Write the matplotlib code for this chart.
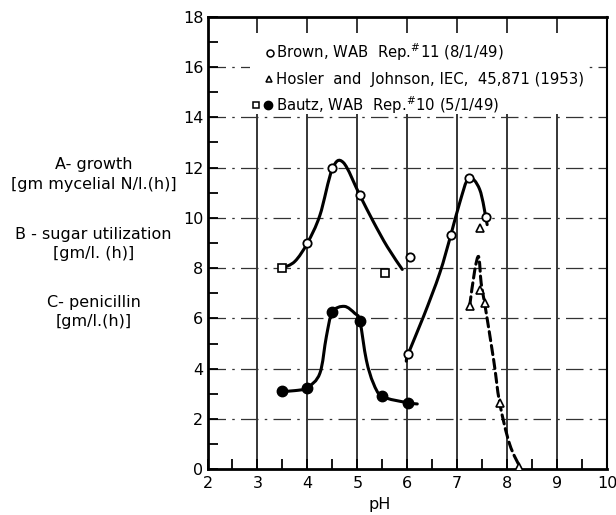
import numpy as np
import matplotlib.pyplot as plt
from matplotlib.path import Path
from matplotlib.patches import PathPatch, Rectangle

# marker data
brown_x = [4.0, 4.5, 5.05, 6.05, 6.02, 6.87, 7.23, 7.57]
brown_y = [9.0, 12.0, 10.9, 8.45, 4.6, 9.3, 11.57, 10.05]
hosler_x = [7.25, 7.45, 7.55, 7.85, 8.23, 7.45]
hosler_y = [6.5, 7.15, 6.6, 2.65, 0.1, 9.6]
bautz_sq_x = [3.5, 5.55]
bautz_sq_y = [8.0, 7.8]
bautz_dot_x = [3.5, 4.0, 4.5, 5.05, 5.5, 6.02]
bautz_dot_y = [3.1, 3.25, 6.25, 5.9, 2.9, 2.65]

# points the hand-drawn curves pass through
growth_x = [3.5, 3.75, 4.0, 4.25, 4.5, 4.72, 5.05, 5.32, 5.6, 5.9]
growth_y = [8.0, 8.27, 9.0, 10.1, 11.95, 12.2, 10.9, 9.85, 8.85, 7.95]
sugar_x = [5.98, 6.02, 6.33, 6.65, 6.87, 7.05, 7.23, 7.45, 7.6]
sugar_y = [4.3, 4.6, 6.1, 7.8, 9.3, 10.6, 11.57, 11.13, 9.73]
pen_x = [3.5, 3.75, 4.0, 4.25, 4.38, 4.5, 4.74, 4.95, 5.05, 5.18, 5.32, 5.5, 6.0, 6.2]
pen_y = [3.1, 3.13, 3.25, 3.82, 5.28, 6.25, 6.48, 6.2, 5.9, 4.35, 3.43, 2.9, 2.65, 2.6]
hos_x = [7.25, 7.35, 7.43, 7.48, 7.55, 7.73, 7.85, 8.05, 8.28]
hos_y = [6.5, 7.9, 8.45, 7.4, 6.6, 4.35, 2.65, 1.0, 0.0]

legend_lines = [r"Brown, WAB  Rep.$^{\#}$11 (8/1/49)",
                "Hosler  and  Johnson, IEC,  45,871 (1953)",
                r"Bautz, WAB  Rep.$^{\#}$10 (5/1/49)"]
legend_y = [16.57, 15.51, 14.47]
side_labels = [("A- growth", 0.6815), ("[gm mycelial N/l.(h)]", 0.6408),
               ("B - sugar utilization", 0.5456), ("[gm/l. (h)]", 0.5087),
               ("C- penicillin", 0.4117), ("[gm/l.(h)]", 0.3748)]


def smooth(xs, ys):
    pts = np.column_stack([xs, ys]).astype(float)
    verts = [pts[0]]
    codes = [Path.MOVETO]
    n = len(pts)
    for i in range(n - 1):
        p0 = pts[i - 1] if i > 0 else pts[i]
        p1, p2 = pts[i], pts[i + 1]
        p3 = pts[i + 2] if i + 2 < n else pts[i + 1]
        verts += [p1 + (p2 - p0) / 6, p2 - (p3 - p1) / 6, p2]
        codes += [Path.CURVE4] * 3
    return Path(verts, codes)


plt.rcParams['font.family'] = 'DejaVu Sans'
fig = plt.figure(figsize=(6.16, 5.15), dpi=100)
ax = fig.add_axes([0.3369, 0.0887, 0.6485, 0.8789])
ax.set_xlim(2, 10)
ax.set_ylim(0, 18)

for xv in range(3, 10):
    ax.axvline(xv, color='black', lw=1.1, zorder=1)
for yv in range(2, 18, 2):
    ax.axhline(yv, color='#333333', lw=0.9, ls=(0, (14, 5, 2, 5)), zorder=1)

# blank patch behind the legend text
ax.add_patch(Rectangle((2.85, 14.12), 6.7, 3.25, fc='white', ec='none', zorder=2))

for s in ax.spines.values():
    s.set_linewidth(2)
ax.spines['right'].set_linewidth(1.5)

ax.set_xticks(range(2, 11))
ax.set_yticks(range(0, 19, 2))
ax.set_xticks(np.arange(2.5, 10, 1), minor=True)
ax.set_yticks(range(1, 18, 2), minor=True)
ax.tick_params(which='both', direction='in', length=7, width=1.3, labelsize=11.5)
ax.tick_params(axis='x', which='major', pad=5)
ax.tick_params(axis='y', which='major', pad=3)
ax.tick_params(top=False, right=False)

for cx, cy, st in [(growth_x, growth_y, '-'), (sugar_x, sugar_y, '-'),
                   (pen_x, pen_y, '-'), (hos_x, hos_y, (0, (3, 1.6)))]:
    ax.add_patch(PathPatch(smooth(cx, cy), fill=False, ec='black', lw=2.2,
                           ls=st, capstyle='round', zorder=3))

ax.plot(brown_x, brown_y, 'o', ms=6, mfc='white', mec='black', mew=1.3, zorder=4)
ax.plot(hosler_x, hosler_y, '^', ms=6, mfc='white', mec='black', mew=1.2, zorder=4)
ax.plot(bautz_sq_x, bautz_sq_y, 's', ms=5.5, mfc='white', mec='black', mew=1.2, zorder=4)
ax.plot(bautz_dot_x, bautz_dot_y, 'o', ms=7.5, color='black', zorder=4)

# legend written in the plot
ax.plot([3.25], [legend_y[0]], 'o', ms=5, mfc='white', mec='black', mew=1.1, zorder=5)
ax.plot([3.23], [legend_y[1]], '^', ms=5, mfc='white', mec='black', mew=1.1, zorder=5)
ax.plot([2.98], [legend_y[2]], 's', ms=5, mfc='white', mec='black', mew=1.1, zorder=5)
ax.plot([3.22], [legend_y[2]], 'o', ms=6, color='black', zorder=5)
for t, yv in zip(legend_lines, legend_y):
    ax.text(3.38, yv, t, fontsize=10.7, va='center', ha='left', zorder=5)

for t, yf in side_labels:
    fig.text(0.152, yf, t, fontsize=11.5, ha='center', va='center')

ax.set_xlabel("pH", fontsize=11.5)
ax.xaxis.set_label_coords(0.43, -0.062)

fig.savefig("out.png", dpi=100)
